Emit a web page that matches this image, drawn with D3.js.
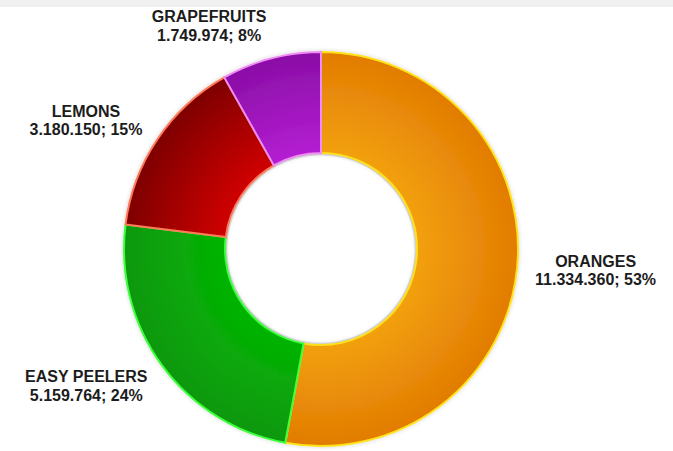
<!DOCTYPE html>
<html>
<head>
<meta charset="utf-8">
<script src="https://cdn.jsdelivr.net/npm/d3@7"></script>
<style>
  html, body { margin: 0; padding: 0; background: #ffffff; }
  svg { display: block; }
</style>
</head>
<body>
<svg id="chart" width="673" height="451"></svg>
<script>
// Citrus volumes by product group
const categories = ["ORANGES", "EASY PEELERS", "LEMONS", "GRAPEFRUITS"];
const values = [11334360, 5159764, 3180150, 1749974];
const percentLabels = ["53%", "24%", "15%", "8%"];
const valueLabels = ["11.334.360", "5.159.764", "3.180.150", "1.749.974"];

// slice paint: inner (light) / outer (dark) gradient stops and edge colour
const innerColors = ["#f2a010", "#04b404", "#d00404", "#b41ed2"];
const outerColors = ["#e27c02", "#0c980c", "#7e0202", "#8a0ea6"];
const edgeColors = ["#ffe21a", "#3cff3c", "#ff7a5a", "#f08cf4"];

const W = 673, H = 451;
const cx = 321, cy = 249;
const outerR = 197, innerR = 96;

const svg = d3.select("#chart");

// thin grey band across the top
svg.append("rect").attr("x", 0).attr("y", 0).attr("width", W).attr("height", 7).attr("fill", "#f0f0f0");

const defs = svg.append("defs");

const shadow = defs.append("filter").attr("id", "softShadow")
  .attr("x", "-10%").attr("y", "-10%").attr("width", "120%").attr("height", "120%");
shadow.append("feGaussianBlur").attr("in", "SourceAlpha").attr("stdDeviation", 2).attr("result", "blur");
shadow.append("feFlood").attr("flood-color", "#000").attr("flood-opacity", 0.18);
shadow.append("feComposite").attr("in2", "blur").attr("operator", "in").attr("result", "sh");
const merge = shadow.append("feMerge");
merge.append("feMergeNode").attr("in", "sh");
merge.append("feMergeNode").attr("in", "SourceGraphic");

categories.forEach((c, i) => {
  const g = defs.append("radialGradient")
    .attr("id", "grad" + i)
    .attr("gradientUnits", "userSpaceOnUse")
    .attr("cx", 0).attr("cy", 0).attr("r", outerR);
  g.append("stop").attr("offset", innerR / outerR).attr("stop-color", innerColors[i]);
  g.append("stop").attr("offset", 1).attr("stop-color", outerColors[i]);
});

const data = categories.map((c, i) => ({ name: c, value: values[i], label: valueLabels[i] + "; " + percentLabels[i], i }));

const pie = d3.pie().value(d => d.value).sort(null);
const arcs = pie(data);

const arc = d3.arc().innerRadius(innerR).outerRadius(outerR);

const root = svg.append("g").attr("transform", `translate(${cx},${cy})`);

root.append("g").attr("filter", "url(#softShadow)")
  .selectAll("path")
  .data(arcs)
  .join("path")
  .attr("d", arc)
  .attr("fill", d => `url(#grad${d.data.i})`)
  .attr("stroke", d => edgeColors[d.data.i])
  .attr("stroke-width", 2)
  .attr("stroke-linejoin", "round");

// inner hole shading
root.append("circle").attr("r", innerR - 1.5)
  .attr("fill", "none").attr("stroke", "#9a9a9a").attr("stroke-opacity", 0.35).attr("stroke-width", 1.5);

// data labels placed just outside the ring, two lines per label
const labelR = 215;
const lineGap = 18.5;
const labels = root.append("g")
  .style("font-family", "'Liberation Sans', Arial, sans-serif")
  .style("font-weight", "bold")
  .style("font-size", "16px")
  .attr("fill", "#1c1c1c");

arcs.forEach(d => {
  const mid = (d.startAngle + d.endAngle) / 2;
  const px = Math.sin(mid) * labelR;
  const py = -Math.cos(mid) * labelR;
  const text = labels.append("text").attr("text-anchor", "middle");
  const lines = [d.data.name, d.data.label];
  const spans = lines.map((t, k) => text.append("tspan").attr("x", 0).attr("y", k * lineGap).text(t));
  const w = d3.max(spans, s => s.node().getComputedTextLength());
  const blockH = lineGap + 12;
  const side = Math.sin(mid) >= 0 ? 1 : -1;
  const bx = px + side * w / 2;
  const centerY = py + (blockH / 2 + 1) * (-Math.cos(mid));
  const top = centerY - blockH / 2;
  text.attr("transform", `translate(${bx},${top + 12})`);
});
</script>
</body>
</html>
